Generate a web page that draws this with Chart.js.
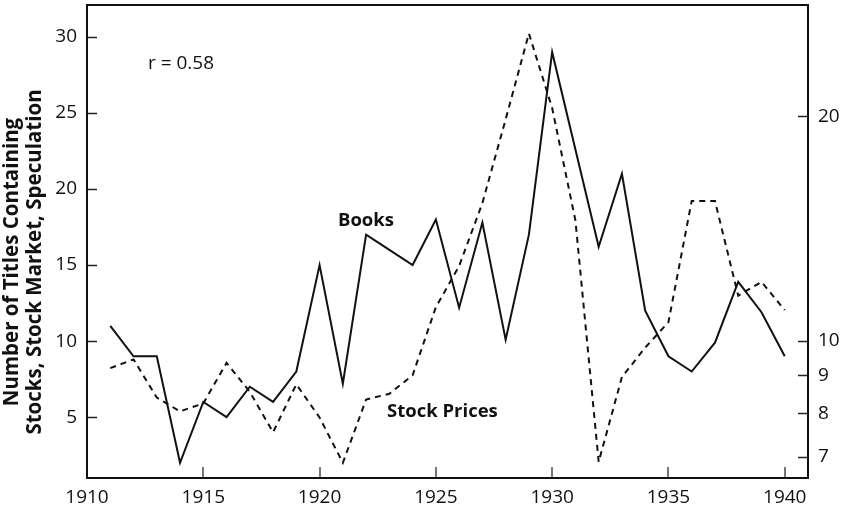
<!DOCTYPE html>
<html>
<head>
<meta charset="utf-8">
<script src="https://cdn.jsdelivr.net/npm/chart.js@4/dist/chart.umd.min.js"></script>
<style>
    html, body { margin: 0; padding: 0; background: #fff; }
</style>
</head>
<body>
<canvas id="chart" width="846" height="511"></canvas>
<script>
const years = [1911, 1912, 1913, 1914, 1915, 1916, 1917, 1918, 1919, 1920,
               1921, 1922, 1923, 1924, 1925, 1926, 1927, 1928, 1929, 1930,
               1931, 1932, 1933, 1934, 1935, 1936, 1937, 1938, 1939, 1940];
// number of titles (left axis)
const books = [11, 9, 9, 2, 6, 5, 7, 6, 8, 15,
               7.2, 17, 16, 15, 18, 12.2, 17.8, 10.1, 17, 29,
               22.6, 16.2, 21, 12, 9, 8, 9.9, 13.9, 11.9, 9];
// stock price index (right axis, log)
const stockPrices = [9.2, 9.45, 8.4, 8.05, 8.25, 9.35, 8.55, 7.55, 8.75, 7.9,
                     6.87, 8.35, 8.5, 9.0, 11.1, 12.6, 15.3, 19.8, 25.8, 20.5,
                     14.5, 6.89, 8.95, 9.8, 10.6, 15.4, 15.4, 11.5, 12.0, 11.0];

const yearTicks = [1910, 1915, 1920, 1925, 1930, 1935, 1940];
const titleTicks = [5, 10, 15, 20, 25, 30];
const priceTicks = [7, 8, 9, 10, 20];

const FONT = '"Open Sans", "Noto Sans", sans-serif';
const INK = '#111';
const TICK_FONT = { family: FONT, size: 19 };

const toPoints = (vals) => years.map((y, i) => ({ x: y, y: vals[i] }));

// no extra room for half labels, the frame sits at fixed edges
const noPad = (s) => {
    s.paddingTop = 0;
    s.paddingBottom = 0;
    s.paddingLeft = 0;
    s.paddingRight = 0;
};

const insideTicks = {
    id: 'insideTicks',
    afterDatasetsDraw(chart) {
        const { ctx, chartArea: a, scales } = chart;
        ctx.save();

        // inward tick marks
        ctx.lineWidth = 1.5;
        ctx.strokeStyle = '#222';
        titleTicks.forEach((v) => {
            const y = Math.round(scales.y.getPixelForValue(v)) + 0.5;
            ctx.beginPath();
            ctx.moveTo(a.left, y);
            ctx.lineTo(a.left + 10, y);
            ctx.stroke();
        });
        priceTicks.forEach((v) => {
            const y = Math.round(scales.y2.getPixelForValue(v)) + 0.5;
            ctx.beginPath();
            ctx.moveTo(a.right, y);
            ctx.lineTo(a.right - 10, y);
            ctx.stroke();
        });
        ctx.strokeStyle = '#777';
        ctx.lineWidth = 2;
        yearTicks.forEach((v) => {
            if (v === 1910) return;
            const x = Math.round(scales.x.getPixelForValue(v));
            ctx.beginPath();
            ctx.moveTo(x, a.bottom);
            ctx.lineTo(x, a.bottom - 11);
            ctx.stroke();
        });

        // frame
        ctx.strokeStyle = '#111';
        ctx.lineWidth = 2;
        ctx.strokeRect(a.left, a.top, a.right - a.left, a.bottom - a.top);

        // notes
        ctx.fillStyle = INK;
        ctx.textBaseline = 'alphabetic';
        ctx.textAlign = 'left';
        ctx.font = '19px ' + FONT;
        ctx.fillText('r = 0.58', scales.x.getPixelForValue(1912.62), scales.y.getPixelForValue(27.9));
        ctx.font = 'bold 18.5px ' + FONT;
        ctx.fillText('Books', scales.x.getPixelForValue(1920.79), scales.y.getPixelForValue(17.57));
        ctx.fillText('Stock Prices', scales.x.getPixelForValue(1922.9), scales.y.getPixelForValue(5.0));

        // left axis title, two lines
        ctx.translate(0, 262);
        ctx.rotate(-Math.PI / 2);
        ctx.textAlign = 'center';
        ctx.textBaseline = 'middle';
        ctx.font = 'bold 20.5px ' + FONT;
        ctx.fillText('Number of Titles Containing', 0, 12);
        ctx.fillText('Stocks, Stock Market, Speculation', 0, 35);

        ctx.restore();
    },
};

new Chart(document.getElementById('chart'), {
    type: 'line',
    data: {
        datasets: [
            {
                label: 'Books',
                data: toPoints(books),
                yAxisID: 'y',
                borderColor: INK,
                borderWidth: 2,
                pointRadius: 0,
                tension: 0,
            },
            {
                label: 'Stock Prices',
                data: toPoints(stockPrices),
                yAxisID: 'y2',
                borderColor: INK,
                borderWidth: 2,
                borderDash: [6, 5],
                pointRadius: 0,
                tension: 0,
            },
        ],
    },
    options: {
        responsive: false,
        animation: false,
        layout: { padding: { top: 5, left: 0, right: 0, bottom: 0 } },
        plugins: {
            legend: { display: false },
            tooltip: { enabled: false },
        },
        scales: {
            x: {
                type: 'linear',
                position: 'bottom',
                min: 1910,
                max: 1941,
                afterBuildTicks: (s) => { s.ticks = yearTicks.map((v) => ({ value: v })); },
                afterFit: (s) => { s.height = 33; noPad(s); },
                grid: { display: false, drawTicks: false },
                border: { display: false },
                ticks: {
                    callback: (v) => String(v),
                    color: INK,
                    font: TICK_FONT,
                    padding: 8,
                    maxRotation: 0,
                    autoSkip: false,
                },
            },
            y: {
                type: 'linear',
                position: 'left',
                min: 1,
                max: 32.1,
                afterBuildTicks: (s) => { s.ticks = titleTicks.map((v) => ({ value: v })); },
                afterFit: (s) => { s.width = 87; noPad(s); },
                grid: { display: false, drawTicks: false },
                border: { display: false },
                ticks: {
                    callback: (v) => String(v),
                    color: INK,
                    font: TICK_FONT,
                    padding: 10,
                },
            },
            y2: {
                type: 'logarithmic',
                position: 'right',
                min: 6.556,
                max: 28.17,
                afterBuildTicks: (s) => { s.ticks = priceTicks.map((v) => ({ value: v })); },
                afterFit: (s) => { s.width = 38; noPad(s); },
                grid: { display: false, drawTicks: false },
                border: { display: false },
                ticks: {
                    callback: (v) => String(v),
                    color: INK,
                    font: TICK_FONT,
                    padding: 10,
                },
            },
        },
    },
    plugins: [insideTicks],
});
</script>
</body>
</html>
